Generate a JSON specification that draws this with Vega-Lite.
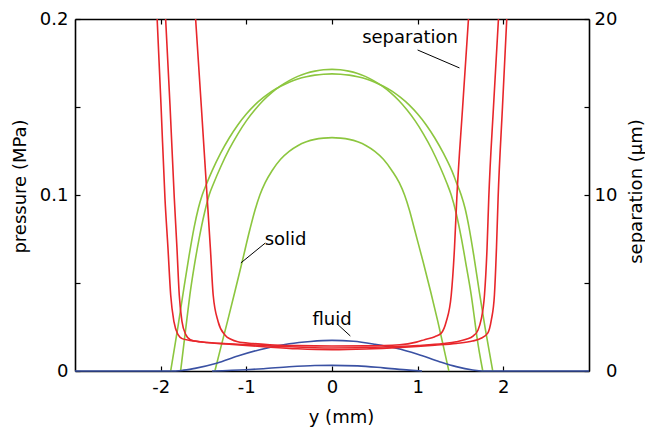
{
  "$schema": "https://vega.github.io/schema/vega-lite/v6.json",
  "width": 514,
  "height": 352,
  "autosize": "none",
  "padding": {"left": 75, "top": 19, "right": 56, "bottom": 63},
  "background": "white",
  "config": {
    "view": {"stroke": null},
    "font": "DejaVu Sans",
    "axis": {
      "grid": false,
      "domainColor": "black",
      "domainWidth": 1.6,
      "tickColor": "black",
      "tickWidth": 1.2,
      "tickSize": -5,
      "labelFont": "DejaVu Sans",
      "titleFont": "DejaVu Sans",
      "labelFontSize": 18,
      "titleFontSize": 18,
      "labelColor": "black",
      "titleColor": "black",
      "titleFontWeight": "normal"
    }
  },
  "datasets": {
    "pressure": [
      {"curve": "G1", "phase": "solid", "x": -1.883, "p": 0},
      {"curve": "G1", "phase": "solid", "x": -1.84, "p": 0.0127},
      {"curve": "G1", "phase": "solid", "x": -1.8, "p": 0.0246},
      {"curve": "G1", "phase": "solid", "x": -1.737, "p": 0.0445},
      {"curve": "G1", "phase": "solid", "x": -1.67, "p": 0.065},
      {"curve": "G1", "phase": "solid", "x": -1.61, "p": 0.0815},
      {"curve": "G1", "phase": "solid", "x": -1.56, "p": 0.0925},
      {"curve": "G1", "phase": "solid", "x": -1.515, "p": 0.1},
      {"curve": "G1", "phase": "solid", "x": -1.45, "p": 0.108},
      {"curve": "G1", "phase": "solid", "x": -1.4, "p": 0.1137},
      {"curve": "G1", "phase": "solid", "x": -1.3, "p": 0.1238},
      {"curve": "G1", "phase": "solid", "x": -1.2, "p": 0.1324},
      {"curve": "G1", "phase": "solid", "x": -1.1, "p": 0.1398},
      {"curve": "G1", "phase": "solid", "x": -1.0, "p": 0.146},
      {"curve": "G1", "phase": "solid", "x": -0.9, "p": 0.1512},
      {"curve": "G1", "phase": "solid", "x": -0.8, "p": 0.1554},
      {"curve": "G1", "phase": "solid", "x": -0.7, "p": 0.159},
      {"curve": "G1", "phase": "solid", "x": -0.6, "p": 0.1618},
      {"curve": "G1", "phase": "solid", "x": -0.5, "p": 0.1641},
      {"curve": "G1", "phase": "solid", "x": -0.4, "p": 0.1659},
      {"curve": "G1", "phase": "solid", "x": -0.3, "p": 0.1672},
      {"curve": "G1", "phase": "solid", "x": -0.2, "p": 0.1681},
      {"curve": "G1", "phase": "solid", "x": -0.1, "p": 0.1686},
      {"curve": "G1", "phase": "solid", "x": 0, "p": 0.1688},
      {"curve": "G1", "phase": "solid", "x": 0.1, "p": 0.1686},
      {"curve": "G1", "phase": "solid", "x": 0.2, "p": 0.1681},
      {"curve": "G1", "phase": "solid", "x": 0.3, "p": 0.1672},
      {"curve": "G1", "phase": "solid", "x": 0.4, "p": 0.1659},
      {"curve": "G1", "phase": "solid", "x": 0.5, "p": 0.1641},
      {"curve": "G1", "phase": "solid", "x": 0.6, "p": 0.1618},
      {"curve": "G1", "phase": "solid", "x": 0.7, "p": 0.159},
      {"curve": "G1", "phase": "solid", "x": 0.8, "p": 0.1554},
      {"curve": "G1", "phase": "solid", "x": 0.9, "p": 0.1512},
      {"curve": "G1", "phase": "solid", "x": 1.0, "p": 0.146},
      {"curve": "G1", "phase": "solid", "x": 1.1, "p": 0.1398},
      {"curve": "G1", "phase": "solid", "x": 1.2, "p": 0.1324},
      {"curve": "G1", "phase": "solid", "x": 1.3, "p": 0.1238},
      {"curve": "G1", "phase": "solid", "x": 1.4, "p": 0.1137},
      {"curve": "G1", "phase": "solid", "x": 1.445, "p": 0.108},
      {"curve": "G1", "phase": "solid", "x": 1.508, "p": 0.1},
      {"curve": "G1", "phase": "solid", "x": 1.553, "p": 0.0925},
      {"curve": "G1", "phase": "solid", "x": 1.6, "p": 0.0815},
      {"curve": "G1", "phase": "solid", "x": 1.657, "p": 0.065},
      {"curve": "G1", "phase": "solid", "x": 1.721, "p": 0.0445},
      {"curve": "G1", "phase": "solid", "x": 1.787, "p": 0.0246},
      {"curve": "G1", "phase": "solid", "x": 1.83, "p": 0.0127},
      {"curve": "G1", "phase": "solid", "x": 1.876, "p": 0},

      {"curve": "G2", "phase": "solid", "x": -1.767, "p": 0},
      {"curve": "G2", "phase": "solid", "x": -1.72, "p": 0.019},
      {"curve": "G2", "phase": "solid", "x": -1.69, "p": 0.031},
      {"curve": "G2", "phase": "solid", "x": -1.659, "p": 0.0432},
      {"curve": "G2", "phase": "solid", "x": -1.61, "p": 0.059},
      {"curve": "G2", "phase": "solid", "x": -1.55, "p": 0.0755},
      {"curve": "G2", "phase": "solid", "x": -1.49, "p": 0.0895},
      {"curve": "G2", "phase": "solid", "x": -1.434, "p": 0.1},
      {"curve": "G2", "phase": "solid", "x": -1.38, "p": 0.1068},
      {"curve": "G2", "phase": "solid", "x": -1.3, "p": 0.1159},
      {"curve": "G2", "phase": "solid", "x": -1.2, "p": 0.126},
      {"curve": "G2", "phase": "solid", "x": -1.1, "p": 0.1346},
      {"curve": "G2", "phase": "solid", "x": -1.0, "p": 0.1421},
      {"curve": "G2", "phase": "solid", "x": -0.9, "p": 0.1484},
      {"curve": "G2", "phase": "solid", "x": -0.8, "p": 0.1538},
      {"curve": "G2", "phase": "solid", "x": -0.7, "p": 0.1583},
      {"curve": "G2", "phase": "solid", "x": -0.6, "p": 0.162},
      {"curve": "G2", "phase": "solid", "x": -0.5, "p": 0.165},
      {"curve": "G2", "phase": "solid", "x": -0.4, "p": 0.1674},
      {"curve": "G2", "phase": "solid", "x": -0.3, "p": 0.1692},
      {"curve": "G2", "phase": "solid", "x": -0.2, "p": 0.1704},
      {"curve": "G2", "phase": "solid", "x": -0.1, "p": 0.1712},
      {"curve": "G2", "phase": "solid", "x": 0, "p": 0.1714},
      {"curve": "G2", "phase": "solid", "x": 0.097, "p": 0.1712},
      {"curve": "G2", "phase": "solid", "x": 0.194, "p": 0.1704},
      {"curve": "G2", "phase": "solid", "x": 0.291, "p": 0.1692},
      {"curve": "G2", "phase": "solid", "x": 0.388, "p": 0.1674},
      {"curve": "G2", "phase": "solid", "x": 0.485, "p": 0.165},
      {"curve": "G2", "phase": "solid", "x": 0.583, "p": 0.162},
      {"curve": "G2", "phase": "solid", "x": 0.68, "p": 0.1583},
      {"curve": "G2", "phase": "solid", "x": 0.777, "p": 0.1538},
      {"curve": "G2", "phase": "solid", "x": 0.874, "p": 0.1484},
      {"curve": "G2", "phase": "solid", "x": 0.971, "p": 0.1421},
      {"curve": "G2", "phase": "solid", "x": 1.068, "p": 0.1346},
      {"curve": "G2", "phase": "solid", "x": 1.165, "p": 0.126},
      {"curve": "G2", "phase": "solid", "x": 1.262, "p": 0.1159},
      {"curve": "G2", "phase": "solid", "x": 1.34, "p": 0.1068},
      {"curve": "G2", "phase": "solid", "x": 1.392, "p": 0.1},
      {"curve": "G2", "phase": "solid", "x": 1.45, "p": 0.0895},
      {"curve": "G2", "phase": "solid", "x": 1.51, "p": 0.0755},
      {"curve": "G2", "phase": "solid", "x": 1.57, "p": 0.059},
      {"curve": "G2", "phase": "solid", "x": 1.625, "p": 0.0432},
      {"curve": "G2", "phase": "solid", "x": 1.66, "p": 0.031},
      {"curve": "G2", "phase": "solid", "x": 1.69, "p": 0.02},
      {"curve": "G2", "phase": "solid", "x": 1.76, "p": 0},

      {"curve": "G3", "phase": "solid", "x": -1.367, "p": 0},
      {"curve": "G3", "phase": "solid", "x": -1.3, "p": 0.013},
      {"curve": "G3", "phase": "solid", "x": -1.22, "p": 0.0282},
      {"curve": "G3", "phase": "solid", "x": -1.134, "p": 0.045},
      {"curve": "G3", "phase": "solid", "x": -1.05, "p": 0.0618},
      {"curve": "G3", "phase": "solid", "x": -0.958, "p": 0.0805},
      {"curve": "G3", "phase": "solid", "x": -0.9, "p": 0.0912},
      {"curve": "G3", "phase": "solid", "x": -0.842, "p": 0.1},
      {"curve": "G3", "phase": "solid", "x": -0.78, "p": 0.107},
      {"curve": "G3", "phase": "solid", "x": -0.7, "p": 0.1138},
      {"curve": "G3", "phase": "solid", "x": -0.6, "p": 0.1203},
      {"curve": "G3", "phase": "solid", "x": -0.5, "p": 0.1248},
      {"curve": "G3", "phase": "solid", "x": -0.4, "p": 0.128},
      {"curve": "G3", "phase": "solid", "x": -0.3, "p": 0.1302},
      {"curve": "G3", "phase": "solid", "x": -0.2, "p": 0.1316},
      {"curve": "G3", "phase": "solid", "x": -0.1, "p": 0.1323},
      {"curve": "G3", "phase": "solid", "x": 0, "p": 0.1326},
      {"curve": "G3", "phase": "solid", "x": 0.1, "p": 0.1323},
      {"curve": "G3", "phase": "solid", "x": 0.2, "p": 0.1316},
      {"curve": "G3", "phase": "solid", "x": 0.3, "p": 0.1302},
      {"curve": "G3", "phase": "solid", "x": 0.4, "p": 0.128},
      {"curve": "G3", "phase": "solid", "x": 0.5, "p": 0.1248},
      {"curve": "G3", "phase": "solid", "x": 0.6, "p": 0.1203},
      {"curve": "G3", "phase": "solid", "x": 0.7, "p": 0.1138},
      {"curve": "G3", "phase": "solid", "x": 0.785, "p": 0.107},
      {"curve": "G3", "phase": "solid", "x": 0.847, "p": 0.1},
      {"curve": "G3", "phase": "solid", "x": 0.905, "p": 0.0912},
      {"curve": "G3", "phase": "solid", "x": 0.963, "p": 0.0805},
      {"curve": "G3", "phase": "solid", "x": 1.065, "p": 0.0618},
      {"curve": "G3", "phase": "solid", "x": 1.152, "p": 0.045},
      {"curve": "G3", "phase": "solid", "x": 1.235, "p": 0.0282},
      {"curve": "G3", "phase": "solid", "x": 1.305, "p": 0.013},
      {"curve": "G3", "phase": "solid", "x": 1.364, "p": 0},

      {"curve": "F1", "phase": "fluid", "x": -3, "p": 0},
      {"curve": "F1", "phase": "fluid", "x": -1.9, "p": 0},
      {"curve": "F1", "phase": "fluid", "x": -1.755, "p": 0.0003},
      {"curve": "F1", "phase": "fluid", "x": -1.6, "p": 0.0015},
      {"curve": "F1", "phase": "fluid", "x": -1.347, "p": 0.0044},
      {"curve": "F1", "phase": "fluid", "x": -1.1, "p": 0.0085},
      {"curve": "F1", "phase": "fluid", "x": -0.843, "p": 0.0121},
      {"curve": "F1", "phase": "fluid", "x": -0.5, "p": 0.0155},
      {"curve": "F1", "phase": "fluid", "x": -0.25, "p": 0.0168},
      {"curve": "F1", "phase": "fluid", "x": 0, "p": 0.0174},
      {"curve": "F1", "phase": "fluid", "x": 0.25, "p": 0.0169},
      {"curve": "F1", "phase": "fluid", "x": 0.5, "p": 0.0152},
      {"curve": "F1", "phase": "fluid", "x": 0.75, "p": 0.0129},
      {"curve": "F1", "phase": "fluid", "x": 1.0, "p": 0.0095},
      {"curve": "F1", "phase": "fluid", "x": 1.255, "p": 0.0053},
      {"curve": "F1", "phase": "fluid", "x": 1.45, "p": 0.0025},
      {"curve": "F1", "phase": "fluid", "x": 1.643, "p": 0.0006},
      {"curve": "F1", "phase": "fluid", "x": 1.75, "p": 0},
      {"curve": "F1", "phase": "fluid", "x": 3, "p": 0},

      {"curve": "F2", "phase": "fluid", "x": -1.4, "p": 0},
      {"curve": "F2", "phase": "fluid", "x": -1.0, "p": 0.0007},
      {"curve": "F2", "phase": "fluid", "x": -0.8, "p": 0.0013},
      {"curve": "F2", "phase": "fluid", "x": -0.5, "p": 0.0024},
      {"curve": "F2", "phase": "fluid", "x": -0.2, "p": 0.0031},
      {"curve": "F2", "phase": "fluid", "x": 0, "p": 0.0032},
      {"curve": "F2", "phase": "fluid", "x": 0.3, "p": 0.0029},
      {"curve": "F2", "phase": "fluid", "x": 0.6, "p": 0.0018},
      {"curve": "F2", "phase": "fluid", "x": 0.9, "p": 0.0005},
      {"curve": "F2", "phase": "fluid", "x": 1.05, "p": 0}
    ],
    "separation": [
      {"curve": "R1", "x": -2.041, "sep": 20},
      {"curve": "R1", "x": -1.995, "sep": 15},
      {"curve": "R1", "x": -1.95, "sep": 9.83},
      {"curve": "R1", "x": -1.915, "sep": 7},
      {"curve": "R1", "x": -1.883, "sep": 4.32},
      {"curve": "R1", "x": -1.845, "sep": 2.8},
      {"curve": "R1", "x": -1.795, "sep": 2.05},
      {"curve": "R1", "x": -1.75, "sep": 1.84},
      {"curve": "R1", "x": -1.66, "sep": 1.74},
      {"curve": "R1", "x": -1.54, "sep": 1.66},
      {"curve": "R1", "x": -1.2, "sep": 1.52},
      {"curve": "R1", "x": -0.8, "sep": 1.38},
      {"curve": "R1", "x": -0.4, "sep": 1.26},
      {"curve": "R1", "x": 0, "sep": 1.21},
      {"curve": "R1", "x": 0.4, "sep": 1.25},
      {"curve": "R1", "x": 0.8, "sep": 1.34},
      {"curve": "R1", "x": 1.2, "sep": 1.47},
      {"curve": "R1", "x": 1.45, "sep": 1.57},
      {"curve": "R1", "x": 1.64, "sep": 1.7},
      {"curve": "R1", "x": 1.74, "sep": 1.86},
      {"curve": "R1", "x": 1.818, "sep": 2.15},
      {"curve": "R1", "x": 1.86, "sep": 2.9},
      {"curve": "R1", "x": 1.896, "sep": 4.32},
      {"curve": "R1", "x": 1.92, "sep": 7},
      {"curve": "R1", "x": 1.939, "sep": 9.83},
      {"curve": "R1", "x": 1.99, "sep": 15},
      {"curve": "R1", "x": 2.04, "sep": 20},

      {"curve": "R2", "x": -1.942, "sep": 20},
      {"curve": "R2", "x": -1.89, "sep": 15},
      {"curve": "R2", "x": -1.841, "sep": 9.83},
      {"curve": "R2", "x": -1.81, "sep": 7},
      {"curve": "R2", "x": -1.783, "sep": 4.32},
      {"curve": "R2", "x": -1.752, "sep": 2.84},
      {"curve": "R2", "x": -1.705, "sep": 2.05},
      {"curve": "R2", "x": -1.66, "sep": 1.8},
      {"curve": "R2", "x": -1.6, "sep": 1.7},
      {"curve": "R2", "x": -1.45, "sep": 1.62},
      {"curve": "R2", "x": -1.1, "sep": 1.52},
      {"curve": "R2", "x": -0.6, "sep": 1.4},
      {"curve": "R2", "x": 0, "sep": 1.31},
      {"curve": "R2", "x": 0.6, "sep": 1.36},
      {"curve": "R2", "x": 1.0, "sep": 1.45},
      {"curve": "R2", "x": 1.3, "sep": 1.56},
      {"curve": "R2", "x": 1.45, "sep": 1.66},
      {"curve": "R2", "x": 1.566, "sep": 1.8},
      {"curve": "R2", "x": 1.65, "sep": 2.0},
      {"curve": "R2", "x": 1.702, "sep": 2.3},
      {"curve": "R2", "x": 1.74, "sep": 2.9},
      {"curve": "R2", "x": 1.78, "sep": 4.32},
      {"curve": "R2", "x": 1.81, "sep": 7},
      {"curve": "R2", "x": 1.83, "sep": 9.83},
      {"curve": "R2", "x": 1.885, "sep": 15},
      {"curve": "R2", "x": 1.943, "sep": 20},

      {"curve": "R3", "x": -1.592, "sep": 20},
      {"curve": "R3", "x": -1.525, "sep": 15},
      {"curve": "R3", "x": -1.457, "sep": 9.83},
      {"curve": "R3", "x": -1.42, "sep": 7},
      {"curve": "R3", "x": -1.387, "sep": 4.32},
      {"curve": "R3", "x": -1.329, "sep": 2.8},
      {"curve": "R3", "x": -1.25, "sep": 2.05},
      {"curve": "R3", "x": -1.18, "sep": 1.8},
      {"curve": "R3", "x": -1.1, "sep": 1.66},
      {"curve": "R3", "x": -0.92, "sep": 1.56},
      {"curve": "R3", "x": -0.726, "sep": 1.49},
      {"curve": "R3", "x": -0.4, "sep": 1.44},
      {"curve": "R3", "x": 0, "sep": 1.42},
      {"curve": "R3", "x": 0.4, "sep": 1.43},
      {"curve": "R3", "x": 0.79, "sep": 1.49},
      {"curve": "R3", "x": 0.984, "sep": 1.64},
      {"curve": "R3", "x": 1.08, "sep": 1.78},
      {"curve": "R3", "x": 1.2, "sep": 1.95},
      {"curve": "R3", "x": 1.275, "sep": 2.15},
      {"curve": "R3", "x": 1.333, "sep": 2.8},
      {"curve": "R3", "x": 1.392, "sep": 4.32},
      {"curve": "R3", "x": 1.43, "sep": 7},
      {"curve": "R3", "x": 1.457, "sep": 9.83},
      {"curve": "R3", "x": 1.525, "sep": 15},
      {"curve": "R3", "x": 1.593, "sep": 20}
    ],
    "labels": [
      {"label": "separation", "x": 0.911, "p": 0.1866},
      {"label": "solid", "x": -0.542, "p": 0.0716},
      {"label": "fluid", "x": 0.0, "p": 0.0261}
    ],
    "leaders": [
      {"x": 0.999, "p": 0.1824, "xe": 1.488, "pe": 0.1722},
      {"x": -0.779, "p": 0.0727, "xe": -1.064, "pe": 0.0614},
      {"x": 0.061, "p": 0.0267, "xe": 0.214, "pe": 0.0199}
    ]
  },
  "layer": [
    {
      "layer": [
        {
          "data": {"name": "pressure"},
          "mark": {"type": "line", "interpolate": "monotone", "strokeWidth": 1.6},
          "encoding": {
            "x": {
              "field": "x", "type": "quantitative",
              "scale": {"domain": [-3, 3], "nice": false, "zero": false},
              "axis": {
                "orient": "bottom", "values": [-2, -1, 0, 1, 2],
                "labelExpr": "toString(datum.value)",
                "labelPadding": 12,
                "title": "y (mm)",
                "titleX": 266, "titleY": 46, "titleBaseline": "middle", "titleAlign": "center"
              }
            },
            "y": {
              "field": "p", "type": "quantitative",
              "scale": {"domain": [0, 0.2], "nice": false},
              "axis": {
                "orient": "left", "values": [0, 0.05, 0.1, 0.15, 0.2],
                "labelExpr": "datum.value == 0 ? '0' : datum.value == 0.1 ? '0.1' : datum.value == 0.2 ? '0.2' : ''",
                "labelPadding": 12,
                "title": "pressure (MPa)",
                "titleX": -55, "titleY": 167, "titleAngle": -90, "titleBaseline": "middle", "titleAlign": "center"
              }
            },
            "color": {
              "field": "phase", "type": "nominal",
              "scale": {"domain": ["solid", "fluid"], "range": ["#8cc63f", "#3a51a3"]},
              "legend": null
            },
            "detail": {"field": "curve"}
          }
        },
        {
          "data": {"name": "leaders"},
          "mark": {"type": "rule", "color": "black", "strokeWidth": 1},
          "encoding": {
            "x": {"field": "x", "type": "quantitative"},
            "y": {"field": "p", "type": "quantitative"},
            "x2": {"field": "xe"},
            "y2": {"field": "pe"}
          }
        },
        {
          "data": {"name": "labels"},
          "mark": {"type": "text", "font": "DejaVu Sans", "fontSize": 18, "baseline": "alphabetic", "align": "center", "color": "black"},
          "encoding": {
            "x": {"field": "x", "type": "quantitative"},
            "y": {"field": "p", "type": "quantitative"},
            "text": {"field": "label"}
          }
        }
      ]
    },
    {
      "data": {"name": "separation"},
      "mark": {"type": "line", "interpolate": "monotone", "strokeWidth": 1.6, "color": "#e8262b", "clip": true},
      "encoding": {
        "x": {
          "field": "x", "type": "quantitative",
          "scale": {"domain": [-3, 3], "nice": false, "zero": false},
          "axis": {"orient": "top", "values": [-2, -1, 0, 1, 2], "labels": false, "title": null}
        },
        "y": {
          "field": "sep", "type": "quantitative",
          "scale": {"domain": [0, 20], "nice": false},
          "axis": {
            "orient": "right", "values": [0, 5, 10, 15, 20],
            "labelExpr": "datum.value == 5 || datum.value == 15 ? '' : toString(datum.value)",
            "labelAlign": "right",
            "labelPadding": 33,
            "title": "separation (µm)",
            "titleX": 47, "titleY": 172, "titleAngle": -90, "titleBaseline": "middle", "titleAlign": "center"
          }
        },
        "detail": {"field": "curve"}
      }
    }
  ],
  "resolve": {"scale": {"y": "independent"}, "axis": {"x": "independent", "y": "independent"}}
}
